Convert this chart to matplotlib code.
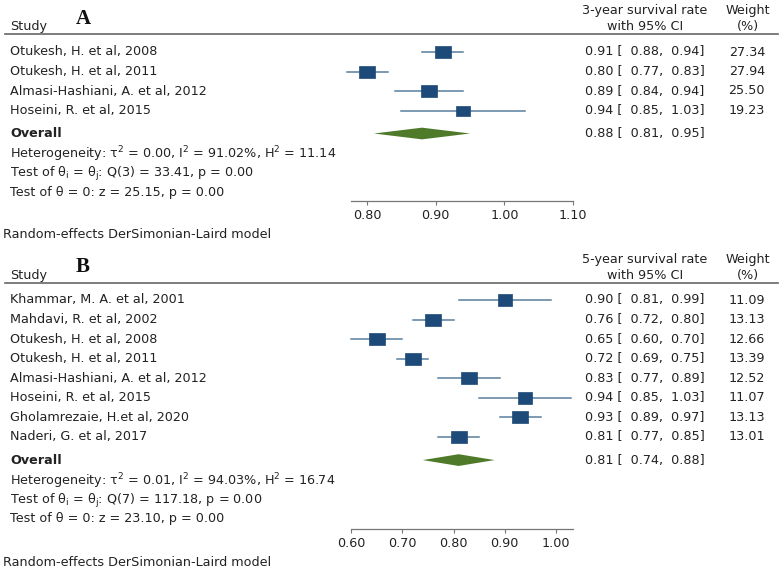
import numpy as np
import matplotlib
matplotlib.use("Agg")
import matplotlib.pyplot as plt
from matplotlib.lines import Line2D
import matplotlib.transforms as mtrans

plt.rcParams['font.family'] = ['DejaVu Sans']
plt.rcParams['mathtext.fontset'] = 'dejavusans'

# panel A : 3-year survival
studies_a = ["Otukesh, H. et al, 2008", "Otukesh, H. et al, 2011",
             "Almasi-Hashiani, A. et al, 2012", "Hoseini, R. et al, 2015"]
est_a = [0.91, 0.80, 0.89, 0.94]
lo_a = [0.88, 0.77, 0.84, 0.85]
hi_a = [0.94, 0.83, 0.94, 1.03]
wt_a = [27.34, 27.94, 25.50, 19.23]
overall_a = (0.88, 0.81, 0.95)
stats_a = [r"Heterogeneity: τ$^\mathregular{2}$ = 0.00, I$^\mathregular{2}$ = 91.02%, H$^\mathregular{2}$ = 11.14",
           r"Test of θ$_\mathregular{i}$ = θ$_\mathregular{j}$: Q(3) = 33.41, p = 0.00",
           r"Test of θ = 0: z = 25.15, p = 0.00"]
ticks_a = [0.80, 0.90, 1.00, 1.10]

# panel B : 5-year survival
studies_b = ["Khammar, M. A. et al, 2001", "Mahdavi, R. et al, 2002",
             "Otukesh, H. et al, 2008", "Otukesh, H. et al, 2011",
             "Almasi-Hashiani, A. et al, 2012", "Hoseini, R. et al, 2015",
             "Gholamrezaie, H.et al, 2020", "Naderi, G. et al, 2017"]
est_b = [0.90, 0.76, 0.65, 0.72, 0.83, 0.94, 0.93, 0.81]
lo_b = [0.81, 0.72, 0.60, 0.69, 0.77, 0.85, 0.89, 0.77]
hi_b = [0.99, 0.80, 0.70, 0.75, 0.89, 1.03, 0.97, 0.85]
wt_b = [11.09, 13.13, 12.66, 13.39, 12.52, 11.07, 13.13, 13.01]
overall_b = (0.81, 0.74, 0.88)
stats_b = [r"Heterogeneity: τ$^\mathregular{2}$ = 0.01, I$^\mathregular{2}$ = 94.03%, H$^\mathregular{2}$ = 16.74",
           r"Test of θ$_\mathregular{i}$ = θ$_\mathregular{j}$: Q(7) = 117.18, p = 0.00",
           r"Test of θ = 0: z = 23.10, p = 0.00"]
ticks_b = [0.60, 0.70, 0.80, 0.90, 1.00]

W, H = 779, 572
fig = plt.figure(figsize=(W / 100, H / 100), dpi=100)
fig.patch.set_facecolor("white")

sq_col = "#1d4a78"
ci_col = "#5a7e9e"
dia_col = "#4e7a2a"
txt_col = "#222222"
fs = 9.2
VA = "center_baseline"

def fx(px):
    return px / W

def fy(py):
    return 1 - py / H

rect = [(-1, -0.8), (1, -0.8), (1, 0.8), (-1, 0.8), (-1, -0.8)]


def panel(letter, header, studies, est, lo, hi, wt, overall, stats, ticks,
          xlim, top_px, axis_px, row0_px, step, ov_off):
    n = len(studies)
    rows = np.arange(n)
    ov_row = n - 1 + ov_off
    stat_rows = [ov_row + 1.0, ov_row + 2.0, ov_row + 3.0]
    top_row = (top_px - row0_px) / step
    bot_row = (axis_px - row0_px) / step

    ax = fig.add_axes([fx(351), fy(axis_px), fx(573) - fx(351),
                       fy(top_px) - fy(axis_px)])
    ax.set_xlim(*xlim)
    ax.set_ylim(bot_row, top_row)
    ax.patch.set_alpha(0)
    for s in ["top", "right", "left"]:
        ax.spines[s].set_visible(False)
    ax.spines["bottom"].set_color("#777777")
    ax.spines["bottom"].set_linewidth(0.9)
    ax.set_yticks([])
    ax.set_xticks(ticks)
    ax.set_xticklabels(["%.2f" % t for t in ticks], fontsize=fs, color=txt_col)
    ax.tick_params(axis="x", length=3, width=0.8, color="#777777", pad=3)

    wmax = max(wt)
    for i in range(n):
        ax.plot([lo[i], hi[i]], [rows[i], rows[i]], color=ci_col, lw=1.1,
                zorder=2, clip_on=False)
        ms = 11.5 * np.sqrt(wt[i] / wmax)
        ax.plot(est[i], rows[i], marker=rect, ms=ms, color=sq_col,
                mec=sq_col, mew=0.5, zorder=3, clip_on=False)
    e, l, h = overall
    dh = 0.3
    ax.fill([l, e, h, e], [ov_row, ov_row - dh, ov_row, ov_row + dh],
            color=dia_col, lw=0, zorder=3, clip_on=False)

    # left column text (nudged up a bit so it sits level with the boxes)
    blend = mtrans.blended_transform_factory(fig.transFigure, ax.transData)
    blend = mtrans.offset_copy(blend, fig=fig, y=1.5, units="dots")
    for i, s in enumerate(studies):
        ax.text(fx(10), rows[i], s, transform=blend, fontsize=fs, color=txt_col,
                va=VA, ha="left")
    ax.text(fx(10), ov_row, "Overall", transform=blend, fontsize=fs,
            color=txt_col, va=VA, ha="left", fontweight="bold")
    for r, s in zip(stat_rows, stats):
        ax.text(fx(10), r, s, transform=blend, fontsize=fs, color=txt_col,
                va=VA, ha="left")

    # right columns
    for i in range(n):
        ax.text(fx(585), rows[i], "%.2f [  %.2f,  %.2f]" % (est[i], lo[i], hi[i]),
                transform=blend, fontsize=fs, color=txt_col, va=VA, ha="left")
        ax.text(fx(765), rows[i], "%.2f" % wt[i], transform=blend, fontsize=fs,
                color=txt_col, va=VA, ha="right")
    ax.text(fx(585), ov_row, "%.2f [  %.2f,  %.2f]" % overall, transform=blend,
            fontsize=fs, color=txt_col, va=VA, ha="left")

    # header
    fig.add_artist(Line2D([fx(5), fx(778)], [fy(top_px), fy(top_px)],
                          color="#666666", lw=1.2))
    fig.text(fx(10), fy(top_px - 9), "Study", fontsize=fs, color=txt_col,
             va=VA, ha="left")
    fig.text(fx(76), fy(top_px - 18), letter, fontsize=15, color="#111111",
             va=VA, ha="left", family="Liberation Serif", fontweight="bold")
    fig.text(fx(645), fy(top_px - 25), header, fontsize=fs, color=txt_col,
             va=VA, ha="center")
    fig.text(fx(645), fy(top_px - 9), "with 95% CI", fontsize=fs,
             color=txt_col, va=VA, ha="center")
    fig.text(fx(748), fy(top_px - 25), "Weight", fontsize=fs, color=txt_col,
             va=VA, ha="center")
    fig.text(fx(748), fy(top_px - 9), "(%)", fontsize=fs, color=txt_col,
             va=VA, ha="center")
    fig.text(fx(3), fy(axis_px + 32), "Random-effects DerSimonian-Laird model",
             fontsize=fs, color=txt_col, va=VA, ha="left")


panel("A", "3-year survival rate", studies_a, est_a, lo_a, hi_a, wt_a,
      overall_a, stats_a, ticks_a, (0.7765, 1.10), 34, 201, 52, 19.5, 1.18)
panel("B", "5-year survival rate", studies_b, est_b, lo_b, hi_b, wt_b,
      overall_b, stats_b, ticks_b, (0.60, 1.033), 283, 529, 300, 19.57, 1.18)

fig.savefig("out.png", dpi=100)
